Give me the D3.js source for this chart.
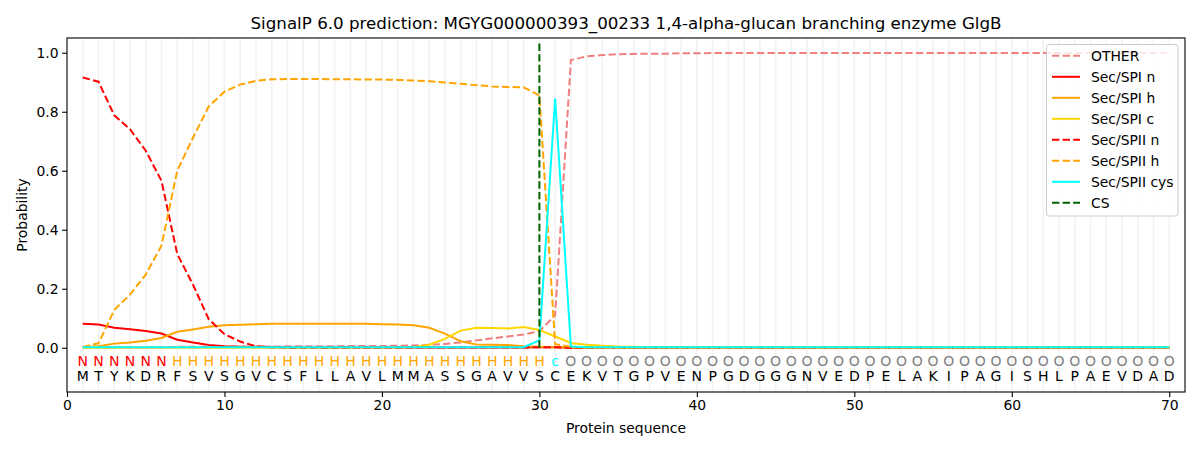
<!DOCTYPE html>
<html>
<head>
<meta charset="utf-8">
<script src="https://cdn.jsdelivr.net/npm/d3@7"></script>
<style>
  body { margin: 0; background: #fff; }
  svg text { font-family: "DejaVu Sans", sans-serif; }
</style>
</head>
<body>
<svg id="chart"></svg>
<script>
// SignalP 6.0 per-residue probabilities

const residues = "MTYKDRFSVSGVCSFLLAVLMMASSGAVVSCEKVTGPVENPGDGGGNVEDPELAKIPAGISHLPAEVDAD".split("");
const regionLabels = "NNNNNNHHHHHHHHHHHHHHHHHHHHHHHHcOOOOOOOOOOOOOOOOOOOOOOOOOOOOOOOOOOOOOOO".split("");

const other = [
  0.001, 0.001, 0.001, 0.002, 0.002, 0.002, 0.003, 0.003, 0.003, 0.003,
  0.004, 0.004, 0.004, 0.005, 0.005, 0.005, 0.005, 0.006, 0.006, 0.006,
  0.007, 0.008, 0.010, 0.013, 0.018, 0.025, 0.032, 0.038, 0.045, 0.056,
  0.110, 0.975, 0.988, 0.992, 0.995, 0.996, 0.997, 0.997, 0.998, 0.998,
  0.999, 0.999, 0.999, 0.999, 0.999, 0.999, 0.999, 0.999, 0.999, 0.999,
  0.999, 0.999, 0.999, 0.999, 0.999, 0.999, 0.999, 0.999, 0.999, 0.999,
  0.999, 0.999, 0.999, 0.999, 0.999, 0.999, 0.999, 0.999, 0.999, 0.999
];
const spiN = [
  0.081, 0.079, 0.068, 0.063, 0.057, 0.048, 0.027, 0.018, 0.009, 0.005,
  0.003, 0.002, 0.002, 0.001, 0.001, 0.001, 0.001, 0.001, 0.001, 0.001,
  0.001, 0.001, 0.001, 0.001, 0.001, 0.001, 0.001, 0.001, 0.001, 0.002,
  0.002, 0.000, 0.000, 0.000, 0.000, 0.000, 0.000, 0.000, 0.000, 0.000,
  0.000, 0.000, 0.000, 0.000, 0.000, 0.000, 0.000, 0.000, 0.000, 0.000,
  0.000, 0.000, 0.000, 0.000, 0.000, 0.000, 0.000, 0.000, 0.000, 0.000,
  0.000, 0.000, 0.000, 0.000, 0.000, 0.000, 0.000, 0.000, 0.000, 0.000
];
const spiH = [
  0.002, 0.005, 0.014, 0.018, 0.024, 0.033, 0.054, 0.062, 0.071, 0.076,
  0.078, 0.080, 0.081, 0.081, 0.081, 0.081, 0.081, 0.081, 0.081, 0.080,
  0.079, 0.076, 0.068, 0.048, 0.022, 0.011, 0.010, 0.009, 0.005, 0.003,
  0.002, 0.001, 0.000, 0.000, 0.000, 0.000, 0.000, 0.000, 0.000, 0.000,
  0.000, 0.000, 0.000, 0.000, 0.000, 0.000, 0.000, 0.000, 0.000, 0.000,
  0.000, 0.000, 0.000, 0.000, 0.000, 0.000, 0.000, 0.000, 0.000, 0.000,
  0.000, 0.000, 0.000, 0.000, 0.000, 0.000, 0.000, 0.000, 0.000, 0.000
];
const spiC = [
  0.000, 0.000, 0.000, 0.000, 0.000, 0.000, 0.000, 0.000, 0.000, 0.000,
  0.000, 0.000, 0.000, 0.000, 0.000, 0.000, 0.000, 0.000, 0.001, 0.001,
  0.001, 0.002, 0.010, 0.030, 0.058, 0.068, 0.067, 0.065, 0.070, 0.060,
  0.038, 0.016, 0.010, 0.007, 0.004, 0.003, 0.002, 0.002, 0.001, 0.001,
  0.001, 0.001, 0.001, 0.001, 0.001, 0.001, 0.001, 0.001, 0.001, 0.001,
  0.001, 0.001, 0.001, 0.001, 0.001, 0.001, 0.001, 0.001, 0.001, 0.001,
  0.001, 0.001, 0.001, 0.001, 0.001, 0.001, 0.001, 0.001, 0.001, 0.001
];
const spiiN = [
  0.916, 0.902, 0.788, 0.741, 0.668, 0.566, 0.318, 0.214, 0.097, 0.046,
  0.021, 0.005, 0.002, 0.001, 0.001, 0.001, 0.001, 0.001, 0.001, 0.001,
  0.001, 0.001, 0.001, 0.001, 0.001, 0.001, 0.001, 0.001, 0.001, 0.002,
  0.002, 0.000, 0.000, 0.000, 0.000, 0.000, 0.000, 0.000, 0.000, 0.000,
  0.000, 0.000, 0.000, 0.000, 0.000, 0.000, 0.000, 0.000, 0.000, 0.000,
  0.000, 0.000, 0.000, 0.000, 0.000, 0.000, 0.000, 0.000, 0.000, 0.000,
  0.000, 0.000, 0.000, 0.000, 0.000, 0.000, 0.000, 0.000, 0.000, 0.000
];
const spiiH = [
  0.003, 0.015, 0.128, 0.180, 0.248, 0.346, 0.600, 0.712, 0.818, 0.868,
  0.892, 0.905, 0.910, 0.911, 0.911, 0.911, 0.910, 0.910, 0.909, 0.909,
  0.908, 0.906, 0.903, 0.899, 0.895, 0.890, 0.886, 0.884, 0.883, 0.855,
  0.012, 0.003, 0.001, 0.000, 0.000, 0.000, 0.000, 0.000, 0.000, 0.000,
  0.000, 0.000, 0.000, 0.000, 0.000, 0.000, 0.000, 0.000, 0.000, 0.000,
  0.000, 0.000, 0.000, 0.000, 0.000, 0.000, 0.000, 0.000, 0.000, 0.000,
  0.000, 0.000, 0.000, 0.000, 0.000, 0.000, 0.000, 0.000, 0.000, 0.000
];
const spiiCys = [
  0.002, 0.002, 0.002, 0.002, 0.002, 0.002, 0.002, 0.002, 0.002, 0.002,
  0.002, 0.002, 0.002, 0.002, 0.002, 0.002, 0.002, 0.002, 0.002, 0.002,
  0.002, 0.002, 0.002, 0.002, 0.002, 0.002, 0.002, 0.002, 0.002, 0.025,
  0.845, 0.004, 0.002, 0.002, 0.002, 0.002, 0.002, 0.002, 0.002, 0.002,
  0.002, 0.002, 0.002, 0.002, 0.002, 0.002, 0.002, 0.002, 0.002, 0.002,
  0.002, 0.002, 0.002, 0.002, 0.002, 0.002, 0.002, 0.002, 0.002, 0.002,
  0.002, 0.002, 0.002, 0.002, 0.002, 0.002, 0.002, 0.002, 0.002, 0.002
];
const csPosition = 30;

const xTicks = [0, 10, 20, 30, 40, 50, 60, 70];
const yTicks = [0.0, 0.2, 0.4, 0.6, 0.8, 1.0];

const series = [
  { name: "OTHER", values: other, color: "#f08080", dashed: true },
  { name: "Sec/SPI n", values: spiN, color: "#ff0000", dashed: false },
  { name: "Sec/SPI h", values: spiH, color: "#ffa500", dashed: false },
  { name: "Sec/SPI c", values: spiC, color: "#ffd700", dashed: false },
  { name: "Sec/SPII n", values: spiiN, color: "#ff0000", dashed: true },
  { name: "Sec/SPII h", values: spiiH, color: "#ffa500", dashed: true },
  { name: "Sec/SPII cys", values: spiiCys, color: "#00ffff", dashed: false }
];
const regionColor = { N: "#ff0000", H: "#ffa500", c: "#00ffff", O: "#808080" };

const width = 1200, height = 450;
const margin = { top: 38, right: 15, bottom: 58, left: 67 };

const svg = d3.select('#chart')
  .attr('width', width)
  .attr('height', height);

const x = d3.scaleLinear().domain([0, 71]).range([margin.left, width - margin.right]);
const y = d3.scaleLinear().domain([-0.15, 1.05]).range([height - margin.bottom, margin.top]);

// light per-residue grid
svg.append('g')
  .selectAll('line')
  .data(residues)
  .enter()
  .append('line')
  .attr('x1', (d, i) => x(i + 1))
  .attr('x2', (d, i) => x(i + 1))
  .attr('y1', y.range()[0])
  .attr('y2', y.range()[1])
  .attr('stroke', '#f2f2f2')
  .attr('stroke-width', 1.6);

const line = d3.line()
  .x((d, i) => x(i + 1))
  .y(d => y(d));

series.forEach(s => {
  svg.append('path')
    .datum(s.values)
    .attr('fill', 'none')
    .attr('stroke', s.color)
    .attr('stroke-width', 2)
    .attr('stroke-dasharray', s.dashed ? '7.4,3.2' : null)
    .attr('d', line);
});

// cleavage site
svg.append('line')
  .attr('x1', x(csPosition))
  .attr('x2', x(csPosition))
  .attr('y1', y(0))
  .attr('y2', y(1.037))
  .attr('stroke', '#006400')
  .attr('stroke-width', 2)
  .attr('stroke-dasharray', '7.4,3.2');

// region labels and sequence
svg.append('g')
  .selectAll('text')
  .data(regionLabels)
  .enter()
  .append('text')
  .attr('x', (d, i) => x(i + 1))
  .attr('y', y(-0.045))
  .attr('dy', '0.36em')
  .attr('text-anchor', 'middle')
  .attr('font-size', 14)
  .attr('fill', d => regionColor[d])
  .text(d => d);

svg.append('g')
  .selectAll('text')
  .data(residues)
  .enter()
  .append('text')
  .attr('x', (d, i) => x(i + 1))
  .attr('y', y(-0.097))
  .attr('dy', '0.36em')
  .attr('text-anchor', 'middle')
  .attr('font-size', 14)
  .attr('fill', '#000')
  .text(d => d);

// axes
const xAxis = svg.append('g')
  .attr('transform', `translate(0,${height - margin.bottom})`)
  .call(d3.axisBottom(x).tickValues(xTicks).tickFormat(d3.format('d')).tickSizeOuter(0).tickSize(4.9).tickPadding(3.5));
const yAxis = svg.append('g')
  .attr('transform', `translate(${margin.left},0)`)
  .call(d3.axisLeft(y).tickValues(yTicks).tickFormat(d3.format('.1f')).tickSizeOuter(0).tickSize(4.9).tickPadding(3.5));
[xAxis, yAxis].forEach(a => {
  a.selectAll('text').attr('font-size', 13.9).attr('fill', '#000').attr('font-family', '"DejaVu Sans", sans-serif');
  a.selectAll('line').attr('stroke', '#000').attr('stroke-width', 1.1);
  a.select('.domain').remove();
});

// frame
svg.append('rect')
  .attr('x', margin.left)
  .attr('y', margin.top)
  .attr('width', width - margin.left - margin.right)
  .attr('height', height - margin.top - margin.bottom)
  .attr('fill', 'none')
  .attr('stroke', '#000')
  .attr('stroke-width', 1.1);

svg.append('text')
  .attr('x', (margin.left + width - margin.right) / 2)
  .attr('y', 29)
  .attr('text-anchor', 'middle')
  .attr('font-size', 16.7)
  .text('SignalP 6.0 prediction: MGYG000000393_00233 1,4-alpha-glucan branching enzyme GlgB');

svg.append('text')
  .attr('x', (margin.left + width - margin.right) / 2)
  .attr('y', 433)
  .attr('text-anchor', 'middle')
  .attr('font-size', 13.9)
  .text('Protein sequence');

svg.append('text')
  .attr('transform', `translate(27,${(margin.top + height - margin.bottom) / 2}) rotate(-90)`)
  .attr('text-anchor', 'middle')
  .attr('font-size', 13.9)
  .text('Probability');

// legend
const legendItems = series.concat([{ name: "CS", color: "#006400", dashed: true }]);
const legend = svg.append('g').attr('transform', 'translate(1046.5,44.5)');
legend.append('rect')
  .attr('width', 131.5)
  .attr('height', 171.5)
  .attr('rx', 3)
  .attr('fill', '#fff')
  .attr('fill-opacity', 0.8)
  .attr('stroke', '#cccccc')
  .attr('stroke-width', 1);
const rows = legend.selectAll('g.row')
  .data(legendItems)
  .enter()
  .append('g')
  .attr('class', 'row')
  .attr('transform', (d, i) => `translate(0,${11.3 + i * 21})`);
rows.append('line')
  .attr('x1', 5.5)
  .attr('x2', 33.5)
  .attr('stroke', d => d.color)
  .attr('stroke-width', 2)
  .attr('stroke-dasharray', d => d.dashed ? '7.4,3.2' : null);
rows.append('text')
  .attr('x', 44.5)
  .attr('dy', '0.36em')
  .attr('font-size', 13.9)
  .text(d => d.name);
</script>
</body>
</html>
